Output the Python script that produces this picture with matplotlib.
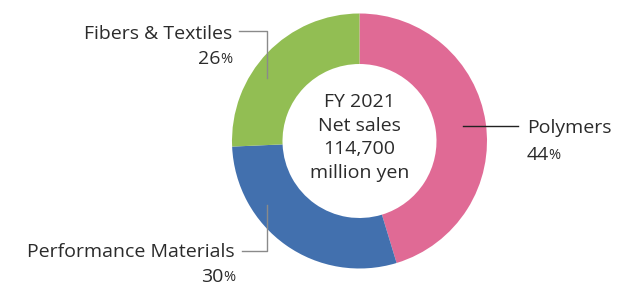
#!/usr/bin/env python3

import matplotlib
matplotlib.use("Agg")
import matplotlib.pyplot as plt

# data
segments = ["Polymers", "Performance Materials", "Fibers & Textiles"]
shares = [44, 30, 26]                 # printed labels
slice_sizes = [45.3, 29.0, 25.7]      # wedge sizes as drawn in the picture
colors = ["#E06A95", "#4270AE", "#92BE53"]
center_lines = ["FY 2021", "Net sales", "114,700", "million yen"]

W, H = 642, 285
TEXT = "#2b2b2b"
FS = 14
plt.rcParams["font.family"] = ["Open Sans", "DejaVu Sans"]


def y(py):
    # pixel row (from top) -> data y
    return H - py


fig = plt.figure(figsize=(W / 100, H / 100), dpi=100)
ax = fig.add_axes([0, 0, 1, 1])

cx, cy, r_out, r_in = 359.5, y(141), 127.5, 77
ax.pie(slice_sizes, colors=colors, startangle=90, counterclock=False,
       center=(cx, cy), radius=r_out, frame=True,
       wedgeprops=dict(width=r_out - r_in, linewidth=0))
ax.set_xlim(0, W)
ax.set_ylim(0, H)
ax.set_aspect("equal")
ax.axis("off")

# centre text
for i, line in enumerate(center_lines):
    ax.text(cx, y(102 + i * 23.7), line, ha="center", va="center",
            fontsize=FS, color=TEXT)

fig.canvas.draw()
renderer = fig.canvas.get_renderer()


def pct_label(x, py, value, ha):
    # number with a smaller percent sign
    if ha == "left":
        t = ax.text(x, y(py), str(value), ha="left", va="center",
                    fontsize=FS, color=TEXT)
        bb = t.get_window_extent(renderer)
        ax.text(bb.x1 - 1, y(py) - 0.5, "%", ha="left", va="center",
                fontsize=FS * 0.75, color=TEXT)
    else:
        p = ax.text(x, y(py) - 0.5, "%", ha="right", va="center",
                    fontsize=FS * 0.75, color=TEXT)
        bb = p.get_window_extent(renderer)
        ax.text(bb.x0 + 1, y(py), str(value), ha="right", va="center",
                fontsize=FS, color=TEXT)


# Polymers
ax.plot([463, 518], [y(126), y(126)], color="#222222", lw=1)
ax.text(527, y(128), segments[0], ha="left", va="center", fontsize=FS, color=TEXT)
pct_label(527, 155, shares[0], "left")

# Performance Materials
ax.plot([267, 267, 242], [y(205), y(251), y(251)], color="#8a8a8a", lw=1)
ax.text(235, y(252), segments[1], ha="right", va="center", fontsize=FS, color=TEXT)
pct_label(235, 277, shares[1], "right")

# Fibers & Textiles
ax.plot([239, 267, 267], [y(31), y(31), y(78)], color="#8a8a8a", lw=1)
ax.text(232, y(34), segments[2], ha="right", va="center", fontsize=FS, color=TEXT)
pct_label(232, 59, shares[2], "right")

fig.savefig("out.png", dpi=100)
